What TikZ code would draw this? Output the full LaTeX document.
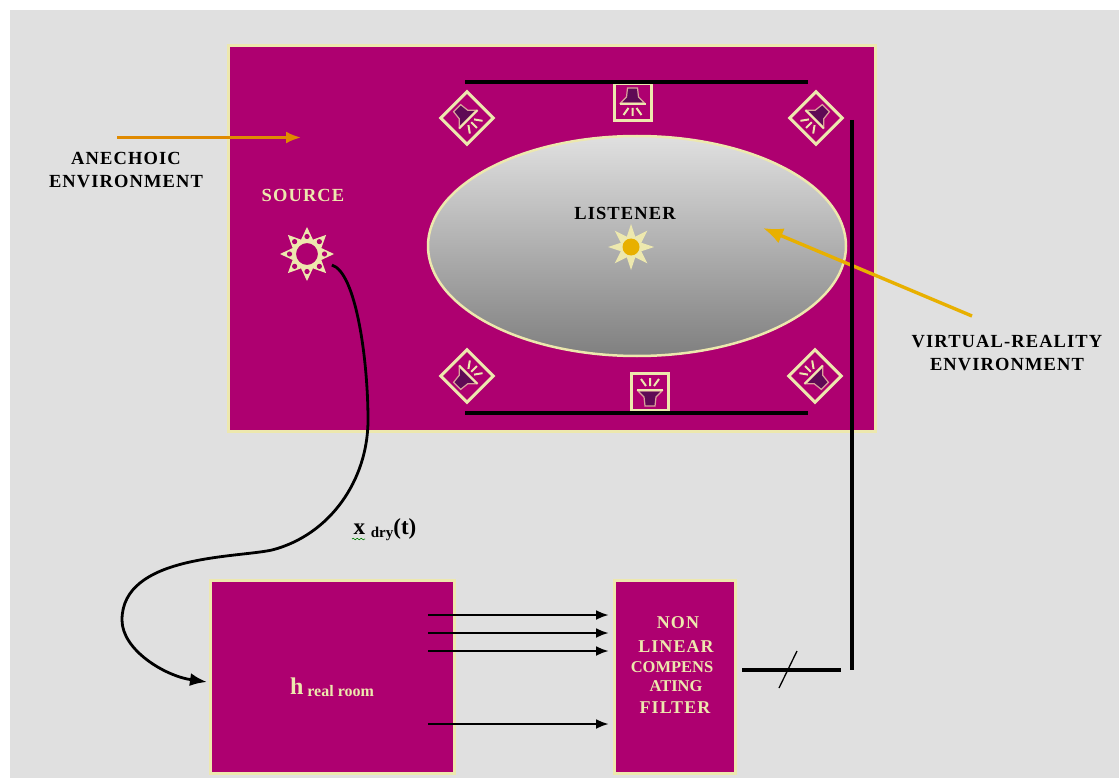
\documentclass[tikz,border=0pt]{standalone}
\usepackage{fontspec}
\usepackage{xcolor}
\setmainfont{Liberation Serif}
\newfontfamily\widefont[LetterSpace=6]{Liberation Serif}
\usetikzlibrary{positioning,arrows.meta,shapes.geometric,decorations.pathmorphing}
\definecolor{roomfill}{HTML}{AE0070}
\definecolor{cream}{HTML}{EDE8AE}
\definecolor{conedark}{HTML}{5E0A55}
\definecolor{panel}{HTML}{E0E0E0}
\definecolor{anechline}{HTML}{E08A00}
\definecolor{vrline}{HTML}{E8B000}
\tikzset{
  roombox/.style  ={rectangle, draw=cream, fill=roomfill, line width=3pt, inner sep=0pt, outer sep=0pt},
  bar/.style      ={draw=black, line width=3.6pt},
  flow/.style     ={-{Latex[length=13pt,width=10pt]}, draw=black, line width=2.8pt},
  darklabel/.style={align=center, text=black, font=\widefont\bfseries\fontsize{18.5}{23}\selectfont},
  lightlabel/.style={align=center, text=cream, font=\widefont\bfseries\fontsize{18.5}{23}\selectfont},
  filterline/.style={text=cream, inner sep=0pt, font=\widefont\bfseries\fontsize{18}{18}\selectfont},
  speaker/.pic={
    \draw[cream, line width=3pt] (-18.5,-18.5) rectangle (18.5,18.5);
    \fill[conedark, draw=cream!70!roomfill, line width=1.2pt] (-5,-14) -- (5,-14) -- (6,-5) -- (12,1) -- (-12,1) -- (-6,-5) -- cycle;
    \draw[cream, line width=2pt] (-13,2) -- (13,2);
    \draw[cream, line width=2pt] (0,6) -- (0,14) (-4,6) -- (-9,13) (4,6) -- (9,13);
  },
  hollowsun/.pic={
    \foreach \a in {0,45,...,315} {
      \fill[cream, rotate=\a] (27,0) -- (11,-7.5) -- (11,7.5) -- cycle;
      \fill[roomfill, rotate=\a] (17.5,0) circle (2.6);
    }
    \fill[roomfill] (0,0) circle (12);
    \draw[cream, line width=2pt] (0,0) circle (12);
  },
  brightsun/.pic={
    \foreach \a in {0,45,...,315} {
      \fill[cream, rotate=\a] (23,0) -- (5,-6) -- (5,6) -- cycle;
    }
    \fill[cream] (0,0) circle (11);
    \fill[vrline] (0,0) circle (8.5);
  },
}
\begin{document}
\begin{tikzpicture}[x=1pt,y=-1pt]
\useasboundingbox (0,0) rectangle (1119,778);
\fill[panel] (10,10) rectangle (1119,778);
% --- anechoic room ---
\node[roombox, minimum width=647pt, minimum height=385pt] (room) at (551.5,238.5) {};
\node[ellipse, draw=cream, line width=2.5pt, top color=panel, bottom color=black!50, minimum width=418pt, minimum height=220pt, inner sep=0pt] (vr) at (637,246) {};
% --- loudspeakers ---
\foreach \px/\py/\ang in {467/118/45, 632.5/102/0, 816/118/-45, 467/376/135, 650/392/180, 815/376/-135} {
  \pic[rotate=\ang] at (\px,\py) {speaker};
}
\coordinate (barTL) at (465,82);
\coordinate (barTR) at (808,82);
\coordinate (barBL) at (465,413);
\coordinate (barBR) at (808,413);
\draw[bar] (barTL) -- (barTR);
\draw[bar] (barBL) -- (barBR);
% --- source ---
\node[lightlabel] (srclabel) at (303,195) {SOURCE};
\node[circle, minimum size=54pt, inner sep=0pt] (source) at (307,254) {};
\pic at (source.center) {hollowsun};
% --- listener ---
\node[darklabel] (lstlabel) at (625,213) {LISTENER};
\node[circle, minimum size=46pt, inner sep=0pt] (listener) at (631,247) {};
\pic at (listener.center) {brightsun};
% --- outside labels ---
\node[darklabel] (anech) at (126,170) {ANECHOIC\\ENVIRONMENT};
\node[darklabel] (vrlabel) at (1007,353) {VIRTUAL-REALITY\\ENVIRONMENT};
\coordinate (anechA) at (117,137.5);
\coordinate (anechB) at (301,137.5);
\coordinate (vrA) at (972,316);
\coordinate (vrB) at (763,228);
\draw[-{Latex[length=15pt,width=12pt]}, draw=anechline, line width=2.6pt] (anechA) -- (anechB);
\draw[-{Latex[length=20pt,width=16pt]}, draw=vrline, line width=3.4pt] (vrA) -- (vrB);
% --- bottom blocks ---
\node[roombox, minimum width=244pt, minimum height=193pt] (hroom) at (332,676.5) {};
\node[roombox, minimum width=121pt, minimum height=193pt] (filter) at (674.5,676.5) {};
\node[text=cream, font=\bfseries\fontsize{24}{25}\selectfont] (hlabel) at (332,687) {h\,\raisebox{-2pt}{\fontsize{16}{16}\selectfont real room}};
\node[filterline] (flt1) at (678,623) {NON};
\node[filterline] (flt2) at (676,647) {LINEAR};
\node[filterline, font=\bfseries\fontsize{16.5}{18}\selectfont] (flt3) at (672,667) {COMPENS};
\node[filterline, font=\bfseries\fontsize{16.5}{18}\selectfont] (flt4) at (676,686) {ATING};
\node[filterline] (flt5) at (675,708) {FILTER};
\node[text=black, font=\bfseries\fontsize{16}{18}\selectfont, inner sep=0pt] (xdry) at (385,530) {\fontsize{23}{23}\selectfont x \fontsize{15}{15}\selectfont\raisebox{-3pt}{dry}\fontsize{23}{23}\selectfont(t)};
\coordinate (wigA) at (352,539);
\coordinate (wigB) at (365,539);
\draw[green!50!black, line width=.6pt, decorate, decoration={snake, amplitude=.8pt, segment length=4pt}] (wigA) -- (wigB);
% --- arrows ---
\foreach \y [count=\i] in {615,633,651,724} {
  \coordinate (out\i) at (428,\y);
  \draw[flow, shorten >=5pt] (out\i) -- (out\i -| filter.west);
}
\coordinate (hin) at (207,682);
\draw[flow, -{Latex[length=17pt,width=13pt]}] (source.-24) .. controls (356,272) and (368,360) .. (368,420)
  .. controls (368,480) and (330,535) .. (272,550)
  .. controls (235,558) and (122,555) .. (122,620)
  .. controls (122,650) and (165,676) .. (hin);
\coordinate (busA) at (742,670);
\coordinate (busB) at (841,670);
\coordinate (feedA) at (852,120);
\coordinate (feedB) at (852,670);
\coordinate (slashA) at (779,688);
\coordinate (slashB) at (797,651);
\draw[bar, line width=4pt] (busA) -- (busB);
\draw[bar, line width=4pt] (feedA) -- (feedB);
\draw[line width=1.3pt] (slashA) -- (slashB);
\end{tikzpicture}
\end{document}
